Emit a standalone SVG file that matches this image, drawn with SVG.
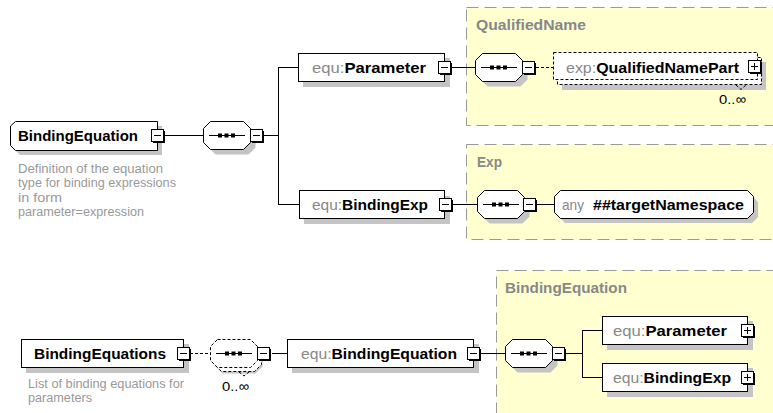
<svg xmlns="http://www.w3.org/2000/svg" xmlns:xlink="http://www.w3.org/1999/xlink" width="773" height="413" viewBox="0 0 773 413">
<style>
text{font-family:"Liberation Sans",Arial,sans-serif}
.lbl{font-size:15px;font-weight:bold;fill:#000}
.pre{font-weight:normal;fill:#888}
.desc{font-size:12.5px;fill:#999}
.grp{font-size:14.5px;font-weight:bold;fill:#888}
.mult{font-size:13.5px;fill:#000}
.box{fill:#fff;stroke:#000;stroke-width:1}
.dbox{fill:#fff;stroke:#000;stroke-width:1;stroke-dasharray:3,2}
.sh{fill:#c4c4c4}
.gbox{fill:#ffffd0;stroke:#999;stroke-width:1;stroke-dasharray:12,6}
.ln{fill:none;stroke:#000;stroke-width:1}
.dln{fill:none;stroke:#000;stroke-width:1;stroke-dasharray:3,2}
</style>
<defs>
<g id="minus">
<rect x="2" y="2" width="12" height="12" fill="#000"/>
<rect x="0.5" y="0.5" width="12" height="12" fill="#fff" stroke="#000"/>
<path d="M3 6.5H10" stroke="#000" stroke-width="1"/>
</g>
<g id="plus">
<rect x="2" y="2" width="12" height="12" fill="#000"/>
<rect x="0.5" y="0.5" width="12" height="12" fill="#fff" stroke="#000"/>
<path d="M3 6.5H10M6.5 3V10" stroke="#000" stroke-width="1"/>
</g>
<path id="octo" d="M7.5 0.5H40.5L47.5 7.5V21.5L40.5 28.5H7.5L0.5 21.5V7.5Z"/>
<g id="seqmark">
<path d="M6 14.5H42" stroke="#000" stroke-width="1"/>
<rect x="15" y="12.5" width="4" height="4" fill="#000"/>
<rect x="21.5" y="12.5" width="4" height="4" fill="#000"/>
<rect x="28" y="12.5" width="4" height="4" fill="#000"/>
</g>
</defs>

<!-- group boxes -->
<rect id="grp-qualifiedname" class="gbox" x="466.5" y="7.5" width="312" height="118"/>
<rect id="grp-exp" class="gbox" x="466.5" y="144.5" width="312" height="95"/>
<rect id="grp-bindingequation" class="gbox" x="496.5" y="270.5" width="282" height="150"/>
<text class="grp" x="476" y="30" textLength="110" lengthAdjust="spacingAndGlyphs">QualifiedName</text>
<text class="grp" x="477" y="167" textLength="25" lengthAdjust="spacingAndGlyphs">Exp</text>
<text class="grp" x="505" y="293" textLength="122" lengthAdjust="spacingAndGlyphs">BindingEquation</text>

<!-- connectors -->
<g id="connectors">
<path class="ln" d="M163 135.5H203"/>
<path class="ln" d="M263 135.5H278.5M278.5 67.5V204.5M278 67.5H298M278 204.5H299"/>
<path class="ln" d="M451 67.5H475"/>
<path class="dln" d="M536 67.5H553"/>
<path class="ln" d="M452 204.5H477"/>
<path class="ln" d="M537 204.5H554"/>
<path class="dln" d="M190 353.5H210"/>
<path class="ln" d="M272 353.5H287"/>
<path class="ln" d="M480 353.5H505"/>
<path class="ln" d="M566 353.5H582.5M582.5 330.5V377.5M582 330.5H602M582 377.5H602"/>
</g>

<!-- top: BindingEquation -->
<g id="node-bindingequation">
<path class="sh" d="M15 131L20 126H162V155H20L15 150Z"/>
<path class="box" d="M10.5 126L15.5 121.5H157.5V150.5H15.5L10.5 145.5Z"/>
<text class="lbl" x="18" y="141" textLength="120" lengthAdjust="spacingAndGlyphs">BindingEquation</text>
<use xlink:href="#minus" transform="translate(151,129)"/>
<text class="desc" x="18" y="172.5" textLength="145" lengthAdjust="spacingAndGlyphs">Definition of the equation</text>
<text class="desc" x="18" y="187" textLength="158" lengthAdjust="spacingAndGlyphs">type for binding expressions</text>
<text class="desc" x="18" y="201.5" textLength="44" lengthAdjust="spacingAndGlyphs">in form</text>
<text class="desc" x="18" y="216" textLength="126" lengthAdjust="spacingAndGlyphs">parameter=expression</text>
</g>

<g id="seq-top">
<use xlink:href="#octo" transform="translate(208,126)" fill="#c4c4c4"/>
<use xlink:href="#octo" transform="translate(203,121)" fill="#fff" stroke="#000"/>
<use xlink:href="#seqmark" transform="translate(203,121)"/>
<use xlink:href="#minus" transform="translate(250,129)"/>
</g>

<g id="node-parameter">
<rect class="sh" x="303" y="58" width="147" height="29"/>
<rect class="box" x="298.5" y="53.5" width="146" height="28"/>
<text class="lbl" x="312" y="72.5" textLength="114" lengthAdjust="spacingAndGlyphs"><tspan class="pre">equ:</tspan>Parameter</text>
<use xlink:href="#minus" transform="translate(438,61)"/>
</g>

<g id="seq-qualifiedname">
<use xlink:href="#octo" transform="translate(480,58)" fill="#c4c4c4"/>
<use xlink:href="#octo" transform="translate(475,53)" fill="#fff" stroke="#000"/>
<use xlink:href="#seqmark" transform="translate(475,53)"/>
<use xlink:href="#minus" transform="translate(522,61)"/>
</g>

<g id="node-qualifiednamepart">
<rect class="sh" x="562" y="62" width="204" height="28"/>
<rect class="dbox" x="557.5" y="57.5" width="204" height="27"/>
<rect class="dbox" x="553.5" y="52.5" width="204" height="27"/>
<text class="lbl" x="566" y="72.5" textLength="173" lengthAdjust="spacingAndGlyphs"><tspan class="pre">exp:</tspan>QualifiedNamePart</text>
<use xlink:href="#plus" transform="translate(748,60)"/>
<path class="dln" d="M736 85L741 89.5L746 85"/>
<text class="mult" x="719" y="104" textLength="27" lengthAdjust="spacingAndGlyphs">0..∞</text>
</g>

<g id="node-bindingexp">
<rect class="sh" x="304" y="196" width="146" height="28"/>
<rect class="box" x="299.5" y="190.5" width="145" height="28"/>
<text class="lbl" x="312" y="210" textLength="116" lengthAdjust="spacingAndGlyphs"><tspan class="pre">equ:</tspan>BindingExp</text>
<use xlink:href="#minus" transform="translate(439,198)"/>
</g>

<g id="seq-exp">
<use xlink:href="#octo" transform="translate(482,195)" fill="#c4c4c4"/>
<use xlink:href="#octo" transform="translate(477,190)" fill="#fff" stroke="#000"/>
<use xlink:href="#seqmark" transform="translate(477,190)"/>
<use xlink:href="#minus" transform="translate(523,198)"/>
</g>

<g id="node-any">
<path class="sh" d="M565 196H752L758 202V217L752 223H565L559 217V202Z"/>
<path class="box" d="M560.5 190.5H747.5L753.5 196.5V212.5L747.5 218.5H560.5L554.5 212.5V196.5Z"/>
<text x="562" y="210" style="font-size:15px;fill:#888" textLength="22" lengthAdjust="spacingAndGlyphs">any</text>
<text class="lbl" x="593" y="210" textLength="151" lengthAdjust="spacingAndGlyphs">##targetNamespace</text>
</g>

<!-- bottom: BindingEquations -->
<g id="node-bindingequations">
<rect class="sh" x="26" y="344" width="163" height="29"/>
<rect class="box" x="21.5" y="339.5" width="162" height="28"/>
<text class="lbl" x="34" y="358.5" textLength="132" lengthAdjust="spacingAndGlyphs">BindingEquations</text>
<use xlink:href="#minus" transform="translate(177,347)"/>
<text class="desc" x="28" y="388" textLength="156" lengthAdjust="spacingAndGlyphs">List of binding equations for</text>
<text class="desc" x="28" y="402" textLength="64" lengthAdjust="spacingAndGlyphs">parameters</text>
</g>

<g id="seq-bindingequations">
<use xlink:href="#octo" transform="translate(215,345)" fill="#c4c4c4"/>
<use xlink:href="#octo" transform="translate(214,343)" fill="#fff" stroke="#000" stroke-dasharray="3,2"/>
<use xlink:href="#octo" transform="translate(210,339)" fill="#fff" stroke="#000" stroke-dasharray="3,2"/>
<use xlink:href="#seqmark" transform="translate(210,339)"/>
<use xlink:href="#minus" transform="translate(257,347)"/>
<path class="dln" d="M239 372L244 376L249 372"/>
<text class="mult" x="222" y="391" textLength="27" lengthAdjust="spacingAndGlyphs">0..∞</text>
</g>

<g id="node-equ-bindingequation">
<rect class="sh" x="292" y="344" width="187" height="29"/>
<rect class="box" x="287.5" y="339.5" width="186" height="28"/>
<text class="lbl" x="301" y="358.5" textLength="156" lengthAdjust="spacingAndGlyphs"><tspan class="pre">equ:</tspan>BindingEquation</text>
<use xlink:href="#minus" transform="translate(467,347)"/>
</g>

<g id="seq-bindingequation">
<use xlink:href="#octo" transform="translate(510,344)" fill="#c4c4c4"/>
<use xlink:href="#octo" transform="translate(505,339)" fill="#fff" stroke="#000"/>
<use xlink:href="#seqmark" transform="translate(505,339)"/>
<use xlink:href="#minus" transform="translate(552,347)"/>
</g>

<g id="node-parameter-2">
<rect class="sh" x="607" y="321" width="146" height="29"/>
<rect class="box" x="602.5" y="316.5" width="145" height="28"/>
<text class="lbl" x="613" y="335.5" textLength="114" lengthAdjust="spacingAndGlyphs"><tspan class="pre">equ:</tspan>Parameter</text>
<use xlink:href="#plus" transform="translate(741,324)"/>
</g>

<g id="node-bindingexp-2">
<rect class="sh" x="607" y="368" width="146" height="29"/>
<rect class="box" x="602.5" y="363.5" width="145" height="28"/>
<text class="lbl" x="613" y="382.5" textLength="118" lengthAdjust="spacingAndGlyphs"><tspan class="pre">equ:</tspan>BindingExp</text>
<use xlink:href="#plus" transform="translate(741,371)"/>
</g>
</svg>
